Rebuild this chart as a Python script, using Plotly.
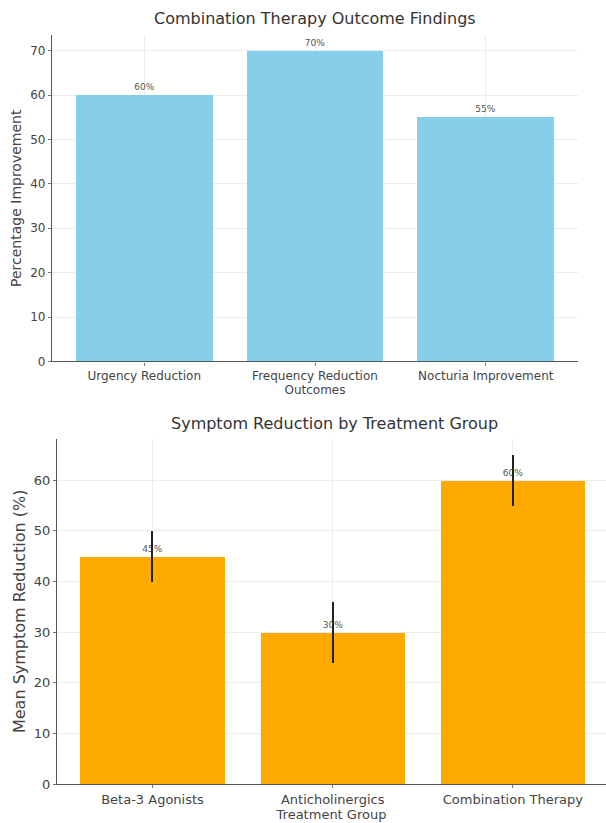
import plotly.graph_objects as go

# Top chart data
outcomes = ["Urgency Reduction", "Frequency Reduction", "Nocturia Improvement"]
improvement = [60, 70, 55]

# Bottom chart data
groups = ["Beta-3 Agonists", "Anticholinergics", "Combination Therapy"]
reduction = [45, 30, 60]
reduction_err = [5, 6, 5]

W, H = 606, 823
VS = 0.989  # observed vertical scale of the rendered page
FONT = "DejaVu Sans"
TXT = "#444444"

def px_x(a, b):
    return [a / W, b / W]

def py(v):
    return 1 - (v / VS) / H

def px_y(top, bottom):
    return [py(bottom), py(top)]

fig = go.Figure()

fig.add_trace(go.Bar(
    x=list(range(len(outcomes))), y=improvement, width=0.8,
    marker=dict(color="#87CEEB", line=dict(width=0)),
    text=[f"{v}%" for v in improvement], textposition="outside",
    textfont=dict(size=9, color="#555555", family=FONT),
    cliponaxis=False, xaxis="x", yaxis="y", showlegend=False,
))

fig.add_trace(go.Bar(
    x=list(range(len(groups))), y=reduction, width=0.8,
    marker=dict(color="#FFAA00", line=dict(width=0)),
    error_y=dict(type="data", array=reduction_err, color="#222222", thickness=2, width=0),
    text=[f"{v}%" for v in reduction], textposition="outside",
    textfont=dict(size=9, color="#555555", family=FONT),
    cliponaxis=False, xaxis="x2", yaxis="y2", showlegend=False,
))

axis_common = dict(
    showline=True, linecolor="#555555", linewidth=1.2,
    ticks="outside", ticklen=3, tickcolor="#777777",
    showgrid=True, gridcolor="#ececec", gridwidth=1, zeroline=False,
)

fig.update_layout(
    width=W, height=H,
    margin=dict(l=0, r=0, t=0, b=0),
    paper_bgcolor="white", plot_bgcolor="white",
    bargap=0,
    font=dict(family=FONT, color=TXT),
    xaxis=dict(
        domain=px_x(52, 578), anchor="y",
        tickmode="array", tickvals=list(range(len(outcomes))), ticktext=outcomes,
        range=[-0.54, 2.54],
        tickfont=dict(size=12, color=TXT, family=FONT),
        title=dict(text="Outcomes", font=dict(size=12, color=TXT, family=FONT), standoff=0),
        **axis_common,
    ),
    yaxis=dict(
        domain=px_y(35, 361), anchor="x",
        range=[0, 73.5], tickmode="array", tickvals=list(range(0, 71, 10)),
        tickfont=dict(size=12, color=TXT, family=FONT),
        title=dict(text="Percentage Improvement", font=dict(size=14, color=TXT, family=FONT), standoff=5),
        **axis_common,
    ),
    xaxis2=dict(
        domain=px_x(57, 606), anchor="y2",
        tickmode="array", tickvals=list(range(len(groups))), ticktext=groups,
        range=[-0.53, 2.517],
        tickfont=dict(size=13, color=TXT, family=FONT),
        title=dict(text="Treatment Group", font=dict(size=13, color=TXT, family=FONT), standoff=0),
        **axis_common,
    ),
    yaxis2=dict(
        domain=px_y(438, 783), anchor="x2",
        range=[0, 68.25], tickmode="array", tickvals=list(range(0, 61, 10)),
        tickfont=dict(size=13, color=TXT, family=FONT),
        title=dict(text="Mean Symptom Reduction (%)", font=dict(size=16, color=TXT, family=FONT), standoff=4),
        **axis_common,
    ),
    annotations=[
        dict(text="Combination Therapy Outcome Findings", x=315 / W, y=py(18),
             xref="paper", yref="paper", showarrow=False,
             font=dict(size=16, color="#333333", family=FONT), xanchor="center", yanchor="middle"),
        dict(text="Symptom Reduction by Treatment Group", x=334 / W, y=py(423),
             xref="paper", yref="paper", showarrow=False,
             font=dict(size=16, color="#333333", family=FONT), xanchor="center", yanchor="middle"),
    ],
)

fig.write_html(
    "out.html",
    config={"displayModeBar": False},
    post_script=(
        "document.documentElement.style.margin='0';"
        "document.documentElement.style.overflow='hidden';"
        "document.body.style.margin='0';"
        "document.body.style.overflow='hidden';"
        "document.body.style.height='823px';"
    ),
)
